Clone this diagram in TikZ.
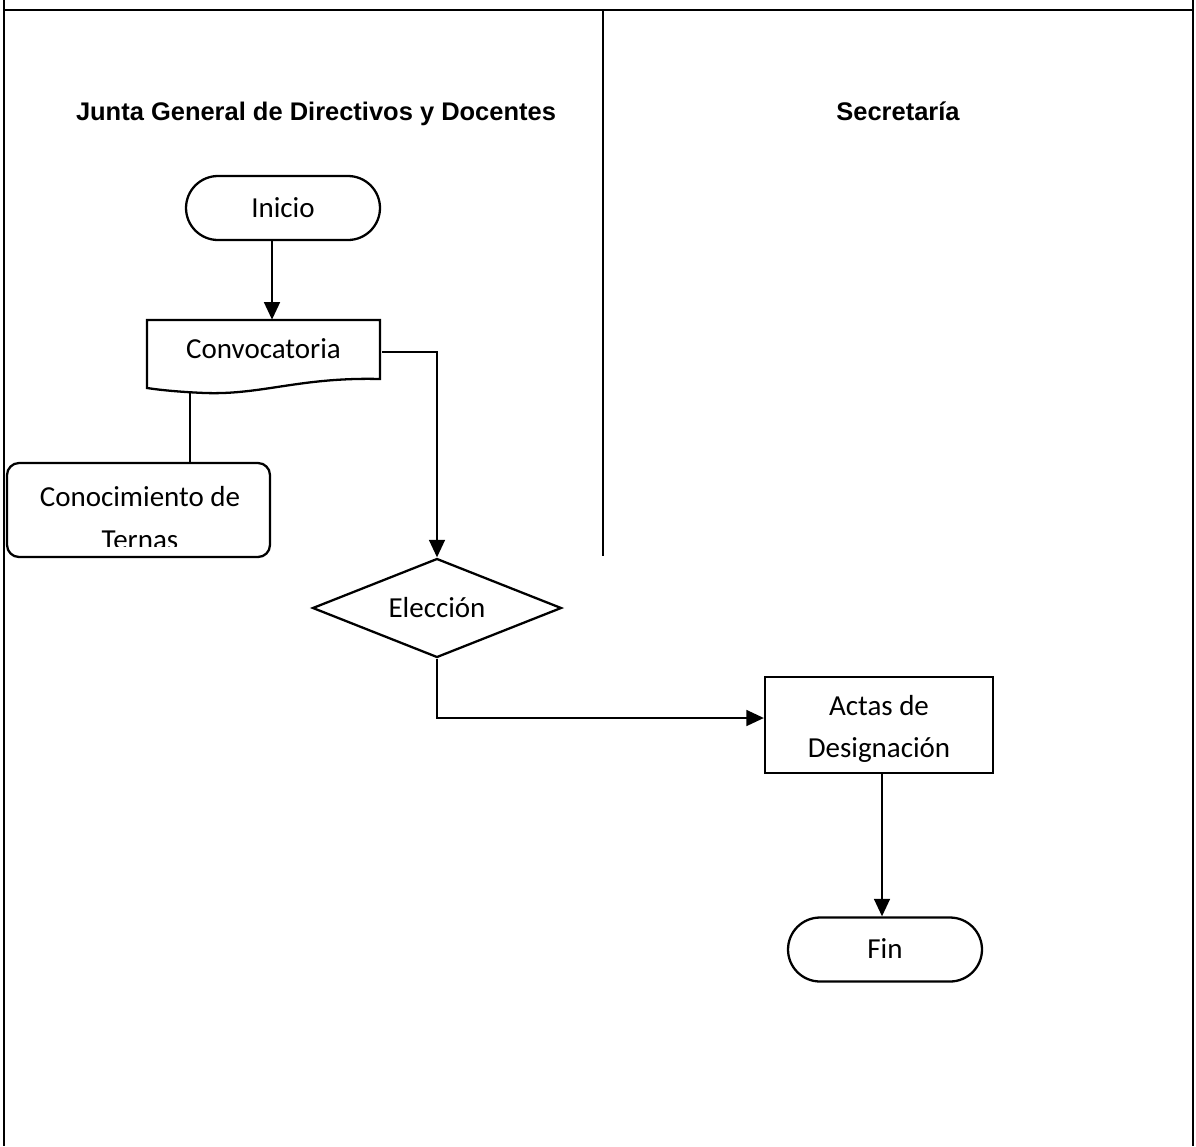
\documentclass[tikz,border=0pt]{standalone}
\usepackage{fontspec}
\setmainfont{Carlito}
\newfontfamily\hdrfont{Liberation Sans}
\usetikzlibrary{shapes.geometric,arrows.meta,calc}
\begin{document}
\begin{tikzpicture}[x=0.02cm,y=-0.02cm,
  ln/.style={line width=1.3pt},
  arr/.style={ln,-{Triangle[length=10pt,width=9pt]}},
  lbl/.style={font=\fontsize{16.5}{23}\selectfont},
  capc/.style={text height=10.6pt,text depth=0pt},
  hd/.style={font=\hdrfont\bfseries\fontsize{14.5}{17}\selectfont,anchor=base},
  term/.style={draw,ln,rectangle,rounded corners=0.64cm,minimum width=3.88cm,minimum height=1.28cm,lbl,capc},
  boxx/.style={draw,ln,rectangle,inner sep=0pt}]
\useasboundingbox (0,0) rectangle (1196,1146);
% frame
\draw[line width=1.3pt] (4,0) -- (4,1146) (1193,0) -- (1193,1146) (4,10) -- (1193,10) (603,10) -- (603,556);
% headers
\node[hd] (h1) at (316,120) {Junta General de Directivos y Docentes};
\node[hd] (h2) at (898,120) {Secretaría};
% Inicio
\node[term] (ini) at (283,208) {Inicio};
% Convocatoria (document)
\node[lbl,capc,minimum width=4.66cm,minimum height=1.18cm] (cv) at (263.5,349.5) {Convocatoria};
\draw[ln] (147,388) -- (147,320) -- (380,320) -- (380,379) .. controls (300,377) and (262,395) .. (205,393) .. controls (180,392) and (160,390) .. (147,388) -- cycle;
\coordinate (cvb) at (190,392);
% Conocimiento de Ternas
\node[boxx,rounded corners=0.24cm,minimum width=5.26cm,minimum height=1.88cm] (con) at (138.5,510) {};
\begin{scope}
\clip (8,464) rectangle (269,546);
\node[lbl,anchor=base] (con1) at (140,506) {Conocimiento de};
\node[lbl,anchor=base] (con2) at (140,549) {Ternas};
\end{scope}
% Eleccion
\node[draw,ln,diamond,aspect=2.5,minimum width=4.98cm,minimum height=1.98cm,inner sep=0pt,lbl,capc] (el) at (437,608) {Elección};
% Actas
\node[boxx,minimum width=4.56cm,minimum height=1.92cm] (act) at (879,725) {};
\node[lbl,anchor=base] (act1) at (879,715) {Actas de};
\node[lbl,anchor=base] (act2) at (879,757) {Designación};
% Fin
\node[term] (fin) at (885,949.5) {Fin};
% connectors
\draw[arr] ([xshift=-0.22cm]ini.south) -- ([xshift=-0.22cm]ini.south |- cv.north);
\draw[ln] (cvb) -- (cvb |- con.north);
\draw[arr] ([xshift=0.04cm,yshift=-0.05cm]cv.east) -| (el.north);
\draw[arr] (el.south) |- ([yshift=0.14cm]act.west);
\draw[arr] ([xshift=0.06cm]act.south) -- ([xshift=0.06cm]act.south |- fin.north);
\end{tikzpicture}
\end{document}
